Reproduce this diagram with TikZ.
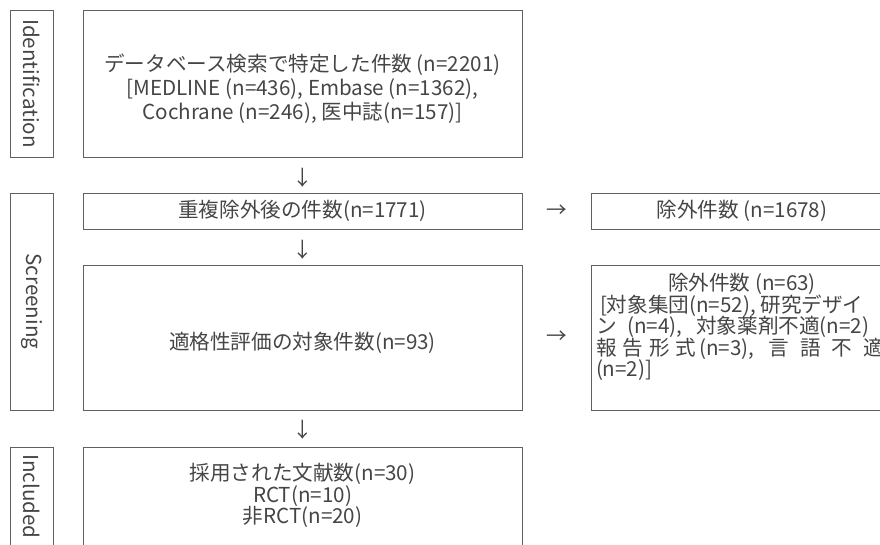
\documentclass[tikz,border=0pt]{standalone}
\usepackage{fontspec}
\usepackage{graphicx}
\setmainfont{Noto Sans CJK JP}
\usetikzlibrary{calc}
\definecolor{txt}{HTML}{454545}
\definecolor{ln}{HTML}{606060}
\begin{document}
\begin{tikzpicture}[x=1pt,y=-1pt,
  font=\fontsize{20.6}{22}\selectfont, text=txt,
  box/.style={draw=ln, line width=1pt, inner sep=0pt, align=center},
  side/.style={box, minimum width=43pt},
  mainbox/.style={box, minimum width=439pt},
  exbox/.style={box, minimum width=302pt},
  arr/.style={inner sep=0pt, text=txt}]
\useasboundingbox (0,0) rectangle (880,544);
\clip (0,0) rectangle (880,544);
% phase labels
\node[side, minimum height=147pt] (lid) at (31.5,83.5) {\rotatebox{-90}{Identification}};
\node[side, minimum height=217pt] (lsc) at (31.5,301.5) {\rotatebox{-90}{Screening}};
\node[side, minimum height=99pt] (lin) at (31.5,496.5) {\rotatebox{-90}{Included}};
% main column
\node[mainbox, minimum height=147pt, font=\fontsize{20.6}{24.3}\selectfont] (id) at (302.5,83.5)
  {\raisebox{-12pt}[0pt][0pt]{\begin{tabular}{@{}c@{}}データベース検索で特定した件数 (n=2201)\\{}[MEDLINE (n=436), Embase (n=1362),\\Cochrane (n=246), 医中誌(n=157)]\end{tabular}}};
\node[mainbox, minimum height=36pt] (dup) at (302.5,211) {重複除外後の件数(n=1771)};
\node[mainbox, minimum height=145pt] (elig) at (302.5,337.5)
  {\raisebox{-11.5pt}[0pt][0pt]{適格性評価の対象件数(n=93)}};
\node[mainbox, minimum height=99pt, font=\fontsize{20.6}{21.5}\selectfont] (inc) at (302.5,496.5)
  {\raisebox{-4.5pt}[0pt][0pt]{\parbox{400pt}{\lineskiplimit=-30pt\centering 採用された文献数(n=30)\\RCT(n=10)\\非RCT(n=20)}}};
% exclusion column
\node[exbox, minimum height=145pt, font=\fontsize{20.6}{21.5}\selectfont] (ex2) at (742,337.5)
  {\raisebox{5pt}[0pt][0pt]{\parbox{292pt}{\lineskiplimit=-30pt\raggedright
   \makebox[292pt][c]{除外件数 (n=63)}\\
   \hspace*{4pt}[対象集団(n=52), 研究デザイ\\
   ン\hspace{6pt} (n=4),\hspace{14pt}対象薬剤不適(n=2)\\
   報\hspace{6pt}告\hspace{6pt}形\hspace{6pt}式\hspace{3pt}(n=3),\hspace{14pt}言\hspace{11pt}語\hspace{11pt}不\hspace{11pt}適\\
   (n=2)]}}};
\node[exbox, minimum height=36pt] (ex1) at (742,211) {除外件数 (n=1678)};
% arrows (printed as glyphs)
\node[arr, yshift=-3pt] (a1) at ($(id.south)!0.5!(dup.north)$) {↓};
\node[arr, yshift=-3pt] (a2) at ($(dup.south)!0.5!(elig.north)$) {↓};
\node[arr, yshift=-1.5pt] (a3) at ($(elig.south)!0.5!(inc.north)$) {↓};
\node[arr] (r1) at ($(dup.east)!0.5!(ex1.west)$) {→};
\node[arr] (r2) at ($(elig.east)!0.5!(ex2.west)$) {→};
\end{tikzpicture}
\end{document}
